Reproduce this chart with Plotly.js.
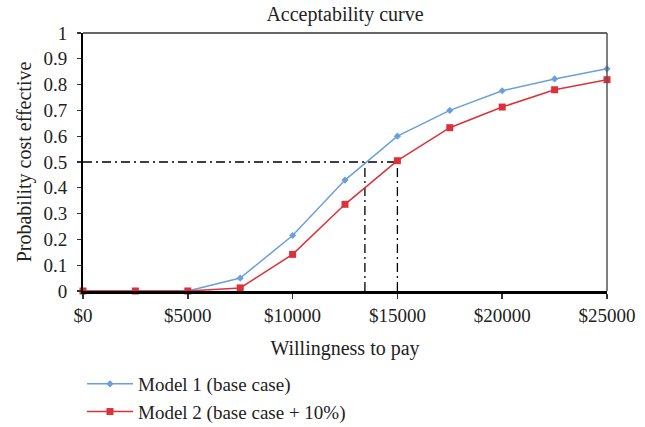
<!DOCTYPE html>
<html>
<head>
<meta charset="utf-8">
<script src="https://cdn.plot.ly/plotly-3.0.1.min.js"></script>
<style>html,body{margin:0;padding:0;background:#fff;}#chart{width:645px;height:427px;}</style>
</head>
<body>
<div id="chart"></div>
<script>
// Data
const willingness = [0, 2500, 5000, 7500, 10000, 12500, 15000, 17500, 20000, 22500, 25000];
const model1 = [0, 0, 0, 0.05, 0.215, 0.43, 0.60, 0.70, 0.776, 0.822, 0.861];
const model2 = [0, 0, 0, 0.012, 0.142, 0.336, 0.505, 0.633, 0.713, 0.78, 0.819];
const seriesNames = ["Model 1 (base case)", "Model 2 (base case + 10%)"];
const xTickVals = [0, 5000, 10000, 15000, 20000, 25000];
const xTickText = ["$0", "$5000", "$10000", "$15000", "$20000", "$25000"];
const thresholdProb = 0.5;
const crossingWTP = [13450, 15000];

const font = "Liberation Serif, Times New Roman, serif";
const blue = "#6a9fd9";
const red = "#dc313b";
const dashStyle = "9px,4px,2px,4px";

const traces = [
  {x: [0, crossingWTP[1]], y: [thresholdProb, thresholdProb], mode: "lines",
   line: {color: "#000", width: 1.3, dash: dashStyle}, showlegend: false, hoverinfo: "skip"},
  {x: [crossingWTP[0], crossingWTP[0]], y: [0, thresholdProb], mode: "lines",
   line: {color: "#000", width: 1.3, dash: dashStyle}, showlegend: false, hoverinfo: "skip"},
  {x: [crossingWTP[1], crossingWTP[1]], y: [0, thresholdProb], mode: "lines",
   line: {color: "#000", width: 1.3, dash: dashStyle}, showlegend: false, hoverinfo: "skip"},
  {x: willingness, y: model1, name: seriesNames[0], mode: "lines+markers",
   line: {color: blue, width: 1.5}, marker: {symbol: "diamond", size: 5.5, color: blue}, cliponaxis: false},
  {x: willingness, y: model2, name: seriesNames[1], mode: "lines+markers",
   line: {color: red, width: 1.5}, marker: {symbol: "square", size: 7, color: red}, cliponaxis: false}
];

const layout = {
  width: 645, height: 427,
  margin: {l: 83, r: 38, t: 33, b: 136, autoexpand: false},
  paper_bgcolor: "#fff", plot_bgcolor: "#fff",
  font: {family: font, color: "#222", size: 20},
  title: {text: "Acceptability curve", font: {family: font, size: 20, color: "#222"},
          x: 345 / 645, xanchor: "center", xref: "container", y: 1 - 14 / 427, yanchor: "middle", yref: "container"},
  xaxis: {
    range: [0, 25000], tickvals: xTickVals, ticktext: xTickText, automargin: false, tickangle: 0,
    showgrid: false, zeroline: false, showline: true, linecolor: "#000", linewidth: 2.5,
    ticks: "outside", ticklen: 5, tickwidth: 1.5, tickcolor: "#333", ticklabelstandoff: 1,
    tickfont: {family: font, size: 19, color: "#222"},
    title: {text: "Willingness to pay", font: {family: font, size: 20, color: "#222"}, standoff: 16}
  },
  yaxis: {
    range: [0, 1], dtick: 0.1, tick0: 0, automargin: false,
    showgrid: false, zeroline: false, showline: true, linecolor: "#000", linewidth: 2,
    ticks: "outside", ticklen: 4, tickwidth: 1.2, tickcolor: "#333", ticklabelstandoff: 6,
    tickfont: {family: font, size: 19, color: "#222"},
    title: {text: "Probability cost effective", font: {family: font, size: 20, color: "#222"}, standoff: 6}
  },
  shapes: [
    {type: "line", xref: "paper", yref: "paper", x0: 0, x1: 1, y0: 1, y1: 1, line: {color: "#333", width: 1.5}},
    {type: "line", xref: "paper", yref: "paper", x0: 1, x1: 1, y0: 0, y1: 1, line: {color: "#555", width: 1.5}}
  ],
  legend: {
    orientation: "v", x: (82 - 83) / 524, xanchor: "left",
    y: -(365 - 291) / 258, yanchor: "top",
    font: {family: font, size: 19, color: "#222"}, tracegroupgap: 0, itemwidth: 46,
    bgcolor: "rgba(0,0,0,0)"
  }
};

Plotly.newPlot("chart", traces, layout, {displayModeBar: false, staticPlot: true});
</script>
</body>
</html>
